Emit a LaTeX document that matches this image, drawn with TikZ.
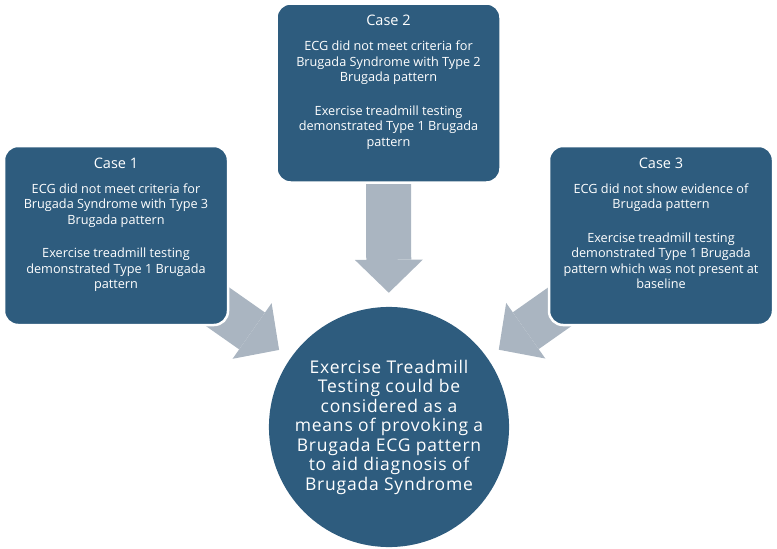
\documentclass[tikz,border=0pt]{standalone}
\usepackage{fontspec}
\setmainfont{Open Sans}
\newfontfamily\goalfont[LetterSpace=4.5]{Open Sans}
\usetikzlibrary{arrows.meta,backgrounds,positioning}
\definecolor{CaseBlue}{RGB}{46,92,126}
\definecolor{ArrowGray}{RGB}{170,181,193}

\begin{document}
\begin{tikzpicture}[x=1pt,y=-1pt,
    casebox/.style={rectangle,rounded corners=14pt,fill=CaseBlue,draw=white,line width=2.5pt,
      minimum width=224pt,minimum height=179pt},
    casetext/.style={text=white,align=center,inner sep=0pt,font=\fontsize{12.7}{15.5}\selectfont},
    blockarrow/.style={ArrowGray,line width=45pt,shorten >=14pt,
      -{Triangle[length=33pt,width=68pt,line width=0pt]}}]
  \useasboundingbox (0,0) rectangle (777,549);
  \node[casebox] (case1) at (116,235.5) {};
  \node[casebox] (case2) at (388.5,93) {};
  \node[casebox] (case3) at (661,235.5) {};
  \node[circle,fill=CaseBlue,minimum size=238pt,text=white,align=center,
    font=\goalfont\fontsize{17.5}{19.5}\selectfont] (goal) at (389,427)
    {Exercise Treadmill\\Testing could be\\considered as a\\means of provoking a\\Brugada ECG pattern\\to aid diagnosis of\\Brugada Syndrome};
  \node[casetext,below=13pt of case1.north] (case1txt)
    {{\fontsize{14.5}{16}\selectfont Case 1}\\[9.5pt]ECG did not meet criteria for\\Brugada Syndrome with Type 3\\Brugada pattern\\[18pt]Exercise treadmill testing\\demonstrated Type 1 Brugada\\pattern};
  \node[casetext,below=13pt of case2.north] (case2txt)
    {{\fontsize{14.5}{16}\selectfont Case 2}\\[9.5pt]ECG did not meet criteria for\\Brugada Syndrome with Type 2\\Brugada pattern\\[18pt]Exercise treadmill testing\\demonstrated Type 1 Brugada\\pattern};
  \node[casetext,below=13pt of case3.north] (case3txt)
    {{\fontsize{14.5}{16}\selectfont Case 3}\\[9.5pt]ECG did not show evidence of\\Brugada pattern\\[18pt]Exercise treadmill testing\\demonstrated Type 1 Brugada\\pattern which was not present at\\baseline};
  \begin{scope}[on background layer]
    \draw[blockarrow] (case1.center) -- (goal);
    \draw[blockarrow] (case2.center) -- (goal);
    \draw[blockarrow] (case3.center) -- (goal);
  \end{scope}
\end{tikzpicture}
\end{document}
